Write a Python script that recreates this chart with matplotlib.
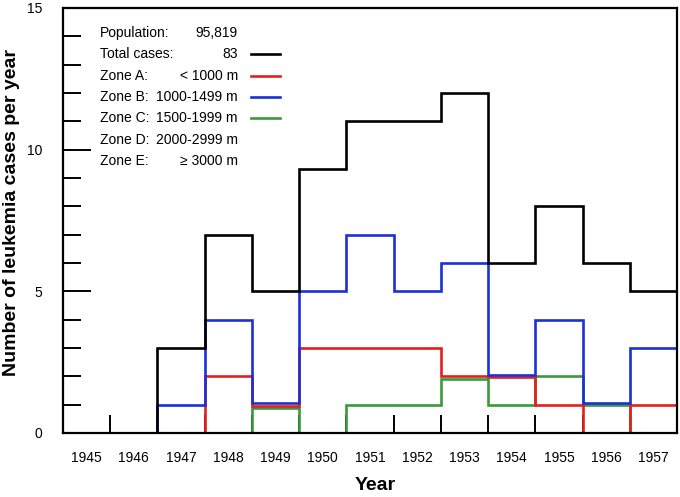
import matplotlib
matplotlib.use("Agg")
import matplotlib.pyplot as plt
import numpy as np

plt.rcParams['font.family'] = ['Liberation Sans', 'DejaVu Sans']

years = [1945, 1946, 1947, 1948, 1949, 1950, 1951, 1952, 1953, 1954, 1955, 1956, 1957]
total = [0, 0, 3, 7, 5, 9.33, 11, 11, 12, 6, 8, 6, 5]
zone_a = [0, 0, 0, 2, 0.97, 3, 3, 3, 2, 1.97, 1, 0, 1]
zone_b = [0, 0, 1, 4, 1.06, 5, 7, 5, 6, 2.05, 4, 1.05, 3]
zone_c = [0, 0, 0, 0, 0.88, 0, 1, 1, 1.92, 1, 2, 0.98, 0]

legend_rows = [("Population:", "95,819", None),
               ("Total cases:", "83", "black"),
               ("Zone A:", "< 1000 m", "red"),
               ("Zone B:", "1000-1499 m", "blue"),
               ("Zone C:", "1500-1999 m", "green"),
               ("Zone D:", "2000-2999 m", None),
               ("Zone E:", "\u2265 3000 m", None)]

colors = {"black": "#000000", "red": "#e3201b", "blue": "#1c30d6", "green": "#3a993a"}

fig = plt.figure(figsize=(6.8, 4.97), dpi=100)
W, H = 680, 497
x0, x1, ytop, ybot = 63, 677, 8, 433
ax = fig.add_axes([x0 / W, (H - ybot) / H, (x1 - x0) / W, (ybot - ytop) / H])

edges = np.arange(years[0] - 0.5, years[-1] + 1.0, 1.0)
lw = 1.9
for vals, c in [(zone_c, "green"), (zone_a, "red"), (zone_b, "blue"), (total, "black")]:
    ax.stairs(vals, edges, color=colors[c], linewidth=lw, baseline=None, zorder=2)

ax.set_xlim(edges[0], edges[-1])
ax.set_ylim(0, 15)

for s in ax.spines.values():
    s.set_linewidth(1.6)
    s.set_zorder(3)

ax.set_yticks([0, 5, 10, 15])
ax.set_yticks(np.arange(0, 16, 1), minor=True)
ax.tick_params(axis='y', which='major', direction='in', length=20, width=1.4, pad=15, labelsize=10)
ax.tick_params(axis='y', which='minor', direction='in', length=13, width=1.4)

ax.set_xticks(years)
ax.set_xticklabels([str(y) for y in years])
ax.set_xticks(edges[1:-1], minor=True)
ax.tick_params(axis='x', which='major', length=0, pad=13, labelsize=10)
ax.tick_params(axis='x', which='minor', direction='in', length=13, width=1.4)

ax.set_xlabel("Year", fontsize=14, fontweight='bold')
ax.xaxis.set_label_coords((375 - x0) / (x1 - x0), -(486 - ybot) / (ybot - ytop))
ax.xaxis.label.set_va('center')
ax.set_ylabel("Number of leukemia cases per year", fontsize=14, fontweight='bold')
ax.yaxis.set_label_coords(-(x0 - 12) / (x1 - x0), (ybot - 213) / (ybot - ytop))
ax.yaxis.label.set_va('center')

def ax_xy(px, py):
    return (px - x0) / (x1 - x0), (ybot - py) / (ybot - ytop)

row_y0, dy = 33, 21.3
for i, (lab, val, col) in enumerate(legend_rows):
    py = row_y0 + i * dy
    xa, ya = ax_xy(100, py)
    ax.text(xa, ya, lab, transform=ax.transAxes, ha='left', va='center', fontsize=10)
    xb, _ = ax_xy(238, py)
    ax.text(xb, ya, val, transform=ax.transAxes, ha='right', va='center', fontsize=10)
    if col:
        l0, _ = ax_xy(251, py)
        l1, _ = ax_xy(280, py)
        ax.plot([l0, l1], [ya, ya], transform=ax.transAxes, color=colors[col], linewidth=lw)

fig.savefig("out.png", dpi=100)
